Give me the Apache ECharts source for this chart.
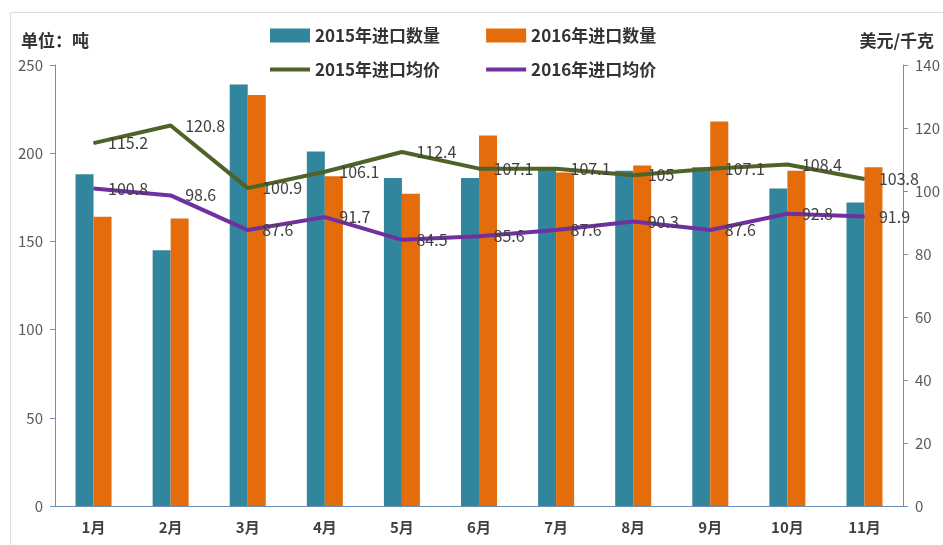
<!DOCTYPE html>
<html>
<head>
<meta charset="utf-8">
<script src="https://cdn.jsdelivr.net/npm/echarts@6/dist/echarts.min.js"></script>
<style>
  html, body { margin: 0; padding: 0; background: #fff; }
  #chart { width: 943px; height: 545px; }
</style>
</head>
<body>
<div id="chart"></div>
<script>
  // 月份
  const months = ['1月', '2月', '3月', '4月', '5月', '6月', '7月', '8月', '9月', '10月', '11月']
  // 进口数量（吨）
  const qty2015 = [188, 145, 239, 201, 186, 186, 191, 190, 192, 180, 172]
  const qty2016 = [164, 163, 233, 187, 177, 210, 189, 193, 218, 190, 192]
  // 进口均价（美元/千克）
  const price2015 = [115.2, 120.8, 100.9, 106.1, 112.4, 107.1, 107.1, 105, 107.1, 108.4, 103.8]
  const price2016 = [100.8, 98.6, 87.6, 91.7, 84.5, 85.6, 87.6, 90.3, 87.6, 92.8, 91.9]

  const fontCN = '"Noto Sans CJK SC", "Noto Sans", sans-serif'
  const axisColor = '#6f8fb5'

  const chart = echarts.init(document.getElementById('chart'))

  const lineLabel = {
    show: true,
    position: 'right',
    distance: 14,
    color: '#404040',
    fontSize: 16,
    fontFamily: fontCN
  }

  const legendText = { fontSize: 17, fontWeight: 'bold', color: '#333', fontFamily: fontCN }

  const option = {
    animation: false,
    textStyle: { fontFamily: fontCN },
    // 外框
    graphic: [{
      type: 'rect',
      left: 8, top: 10,
      shape: { width: 1000, height: 600 },
      style: { fill: 'none', stroke: '#dddddd', lineWidth: 1 },
      silent: true
    }],
    title: [
      {
        text: '单位：吨',
        left: 16, top: 27,
        textStyle: { fontSize: 17, fontWeight: 'bold', color: '#333', fontFamily: fontCN }
      },
      {
        text: '美元/千克',
        right: 4, top: 27,
        textStyle: { fontSize: 17, fontWeight: 'bold', color: '#333', fontFamily: fontCN }
      }
    ],
    legend: [
      {
        data: ['2015年进口数量', '2016年进口数量'],
        left: 265, top: 22,
        itemWidth: 40, itemHeight: 14, itemGap: 46,
        icon: 'rect',
        textStyle: legendText
      },
      {
        data: ['2015年进口均价', '2016年进口均价'],
        left: 265, top: 56,
        itemWidth: 40, itemHeight: 4, itemGap: 46,
        icon: 'rect',
        textStyle: legendText
      }
    ],
    grid: { left: 55, right: 38, top: 65, bottom: 39 },
    xAxis: {
      type: 'category',
      data: months,
      axisLine: { lineStyle: { color: axisColor, width: 1 } },
      axisTick: { show: false },
      axisLabel: { color: '#404040', fontSize: 15, fontWeight: 'bold', margin: 14, fontFamily: fontCN }
    },
    yAxis: [
      {
        type: 'value',
        min: 0, max: 250, interval: 50,
        splitLine: { show: false },
        axisLine: { show: true, lineStyle: { color: axisColor } },
        axisTick: { show: true, length: 5, lineStyle: { color: axisColor } },
        axisLabel: { color: '#595959', fontSize: 15, margin: 12 }
      },
      {
        type: 'value',
        min: 0, max: 140, interval: 20,
        splitLine: { show: false },
        axisLine: { show: true, lineStyle: { color: axisColor } },
        axisTick: { show: true, length: 5, lineStyle: { color: axisColor } },
        axisLabel: { color: '#595959', fontSize: 15, margin: 12 }
      }
    ],
    series: [
      {
        name: '2015年进口数量',
        type: 'bar',
        data: qty2015,
        barWidth: 18,
        barGap: '0%',
        itemStyle: { color: '#31859c' }
      },
      {
        name: '2016年进口数量',
        type: 'bar',
        data: qty2016,
        barWidth: 18,
        barGap: '0%',
        itemStyle: { color: '#e46c0a' }
      },
      {
        name: '2015年进口均价',
        type: 'line',
        yAxisIndex: 1,
        data: price2015,
        symbol: 'circle',
        symbolSize: 1,
        lineStyle: { color: '#4f6228', width: 4 },
        itemStyle: { color: '#4f6228' },
        label: lineLabel
      },
      {
        name: '2016年进口均价',
        type: 'line',
        yAxisIndex: 1,
        data: price2016,
        symbol: 'circle',
        symbolSize: 1,
        lineStyle: { color: '#7030a0', width: 4 },
        itemStyle: { color: '#7030a0' },
        label: lineLabel
      }
    ]
  }

  chart.setOption(option)
</script>
</body>
</html>
